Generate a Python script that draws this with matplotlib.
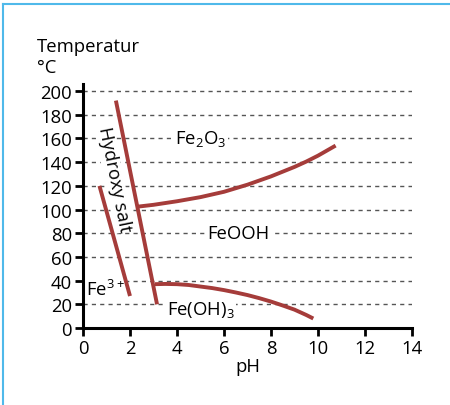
import matplotlib
matplotlib.use("Agg")
import matplotlib.pyplot as plt
from matplotlib.lines import Line2D

plt.rcParams['font.family'] = ['Open Sans', 'DejaVu Sans']
plt.rcParams['mathtext.fontset'] = 'custom'
plt.rcParams['mathtext.rm'] = 'Open Sans'

# Data
fe3_boundary_ph = [0.7, 2.0]
fe3_boundary_t = [120, 27]
hydroxy_boundary_ph = [1.4, 3.15]
hydroxy_boundary_t = [192, 20]
fe2o3_feooh_ph = [2.35, 3, 4, 5, 6, 7, 8, 9, 9.5, 10, 10.75]
fe2o3_feooh_t = [102.5, 104, 107, 110.5, 115, 121, 128, 136, 140.5, 145.5, 154]
feooh_feoh3_ph = [3.06, 3.5, 4, 4.5, 5, 5.5, 6, 6.5, 7, 7.5, 8, 8.5, 9, 9.5, 9.8]
feooh_feoh3_t = [37, 37.2, 37, 36.3, 35, 33.7, 32, 30, 27.8, 25.2, 22.3, 19, 15.5, 11, 8]

x_ticks = [0, 2, 4, 6, 8, 10, 12, 14]
y_ticks = [0, 20, 40, 60, 80, 100, 120, 140, 160, 180, 200]
grid_levels = [20, 40, 60, 80, 100, 120, 140, 160, 180, 200]

line_color = '#a53c3a'

fig = plt.figure(figsize=(4.5, 4.06), dpi=100)
ax = fig.add_axes([83/450, 1-329/406, (412-83)/450, (329-85)/406])
ax.set_xlim(0, 14)
ax.set_ylim(0, 206)

for g in grid_levels:
    ax.plot([0, 14], [g, g], color='#555555', lw=1.0, dashes=(3, 3), zorder=1)

kw = dict(color=line_color, lw=2.8, solid_capstyle='butt', solid_joinstyle='round', zorder=3)
ax.plot(fe3_boundary_ph, fe3_boundary_t, **kw)
ax.plot(hydroxy_boundary_ph, hydroxy_boundary_t, **kw)
ax.plot(fe2o3_feooh_ph, fe2o3_feooh_t, **kw)
ax.plot(feooh_feoh3_ph, feooh_feoh3_t, **kw)

bb = dict(facecolor='white', edgecolor='none', pad=1.5)
fs = 13.3
ax.text(5.0, 160, 'Fe$_2$O$_3$', ha='center', va='center', fontsize=fs, bbox=bb, zorder=2)
ax.text(6.6, 80, 'FeOOH', ha='center', va='center', fontsize=fs, bbox=bb, zorder=2)
ax.text(5.0, 16, 'Fe(OH)$_3$', ha='center', va='center', fontsize=fs, bbox=bb, zorder=2)
ax.text(0.95, 33, 'Fe$^{3+}$', ha='center', va='center', fontsize=fs, bbox=dict(facecolor='white', edgecolor='none', pad=0.5), zorder=2)
ax.text(1.32, 126, 'Hydroxy salt', ha='center', va='center', fontsize=fs,
        rotation=-78.6, rotation_mode='anchor', bbox=dict(facecolor='white', edgecolor='none', pad=0.5), zorder=2)

ax.set_xticks(x_ticks)
ax.set_yticks(y_ticks)
ax.tick_params(direction='out', length=6, width=2, labelsize=fs, pad=2)
for s in ['top', 'right']:
    ax.spines[s].set_visible(False)
for s in ['left', 'bottom']:
    ax.spines[s].set_linewidth(2.2)
ax.set_xlabel('pH', fontsize=fs, labelpad=0)

fig.text(37/450, 1-47/406, 'Temperatur', fontsize=fs, ha='left', va='center')
fig.text(37/450, 1-68/406, '°C', fontsize=fs, ha='left', va='center')

border = '#4fb9ea'
fig.add_artist(Line2D([3/450, 1], [1-5/406, 1-5/406], color=border, lw=1.5, transform=fig.transFigure))
fig.add_artist(Line2D([3/450, 3/450], [0, 1-5/406], color=border, lw=1.5, transform=fig.transFigure))

fig.savefig('out.png', dpi=100)
